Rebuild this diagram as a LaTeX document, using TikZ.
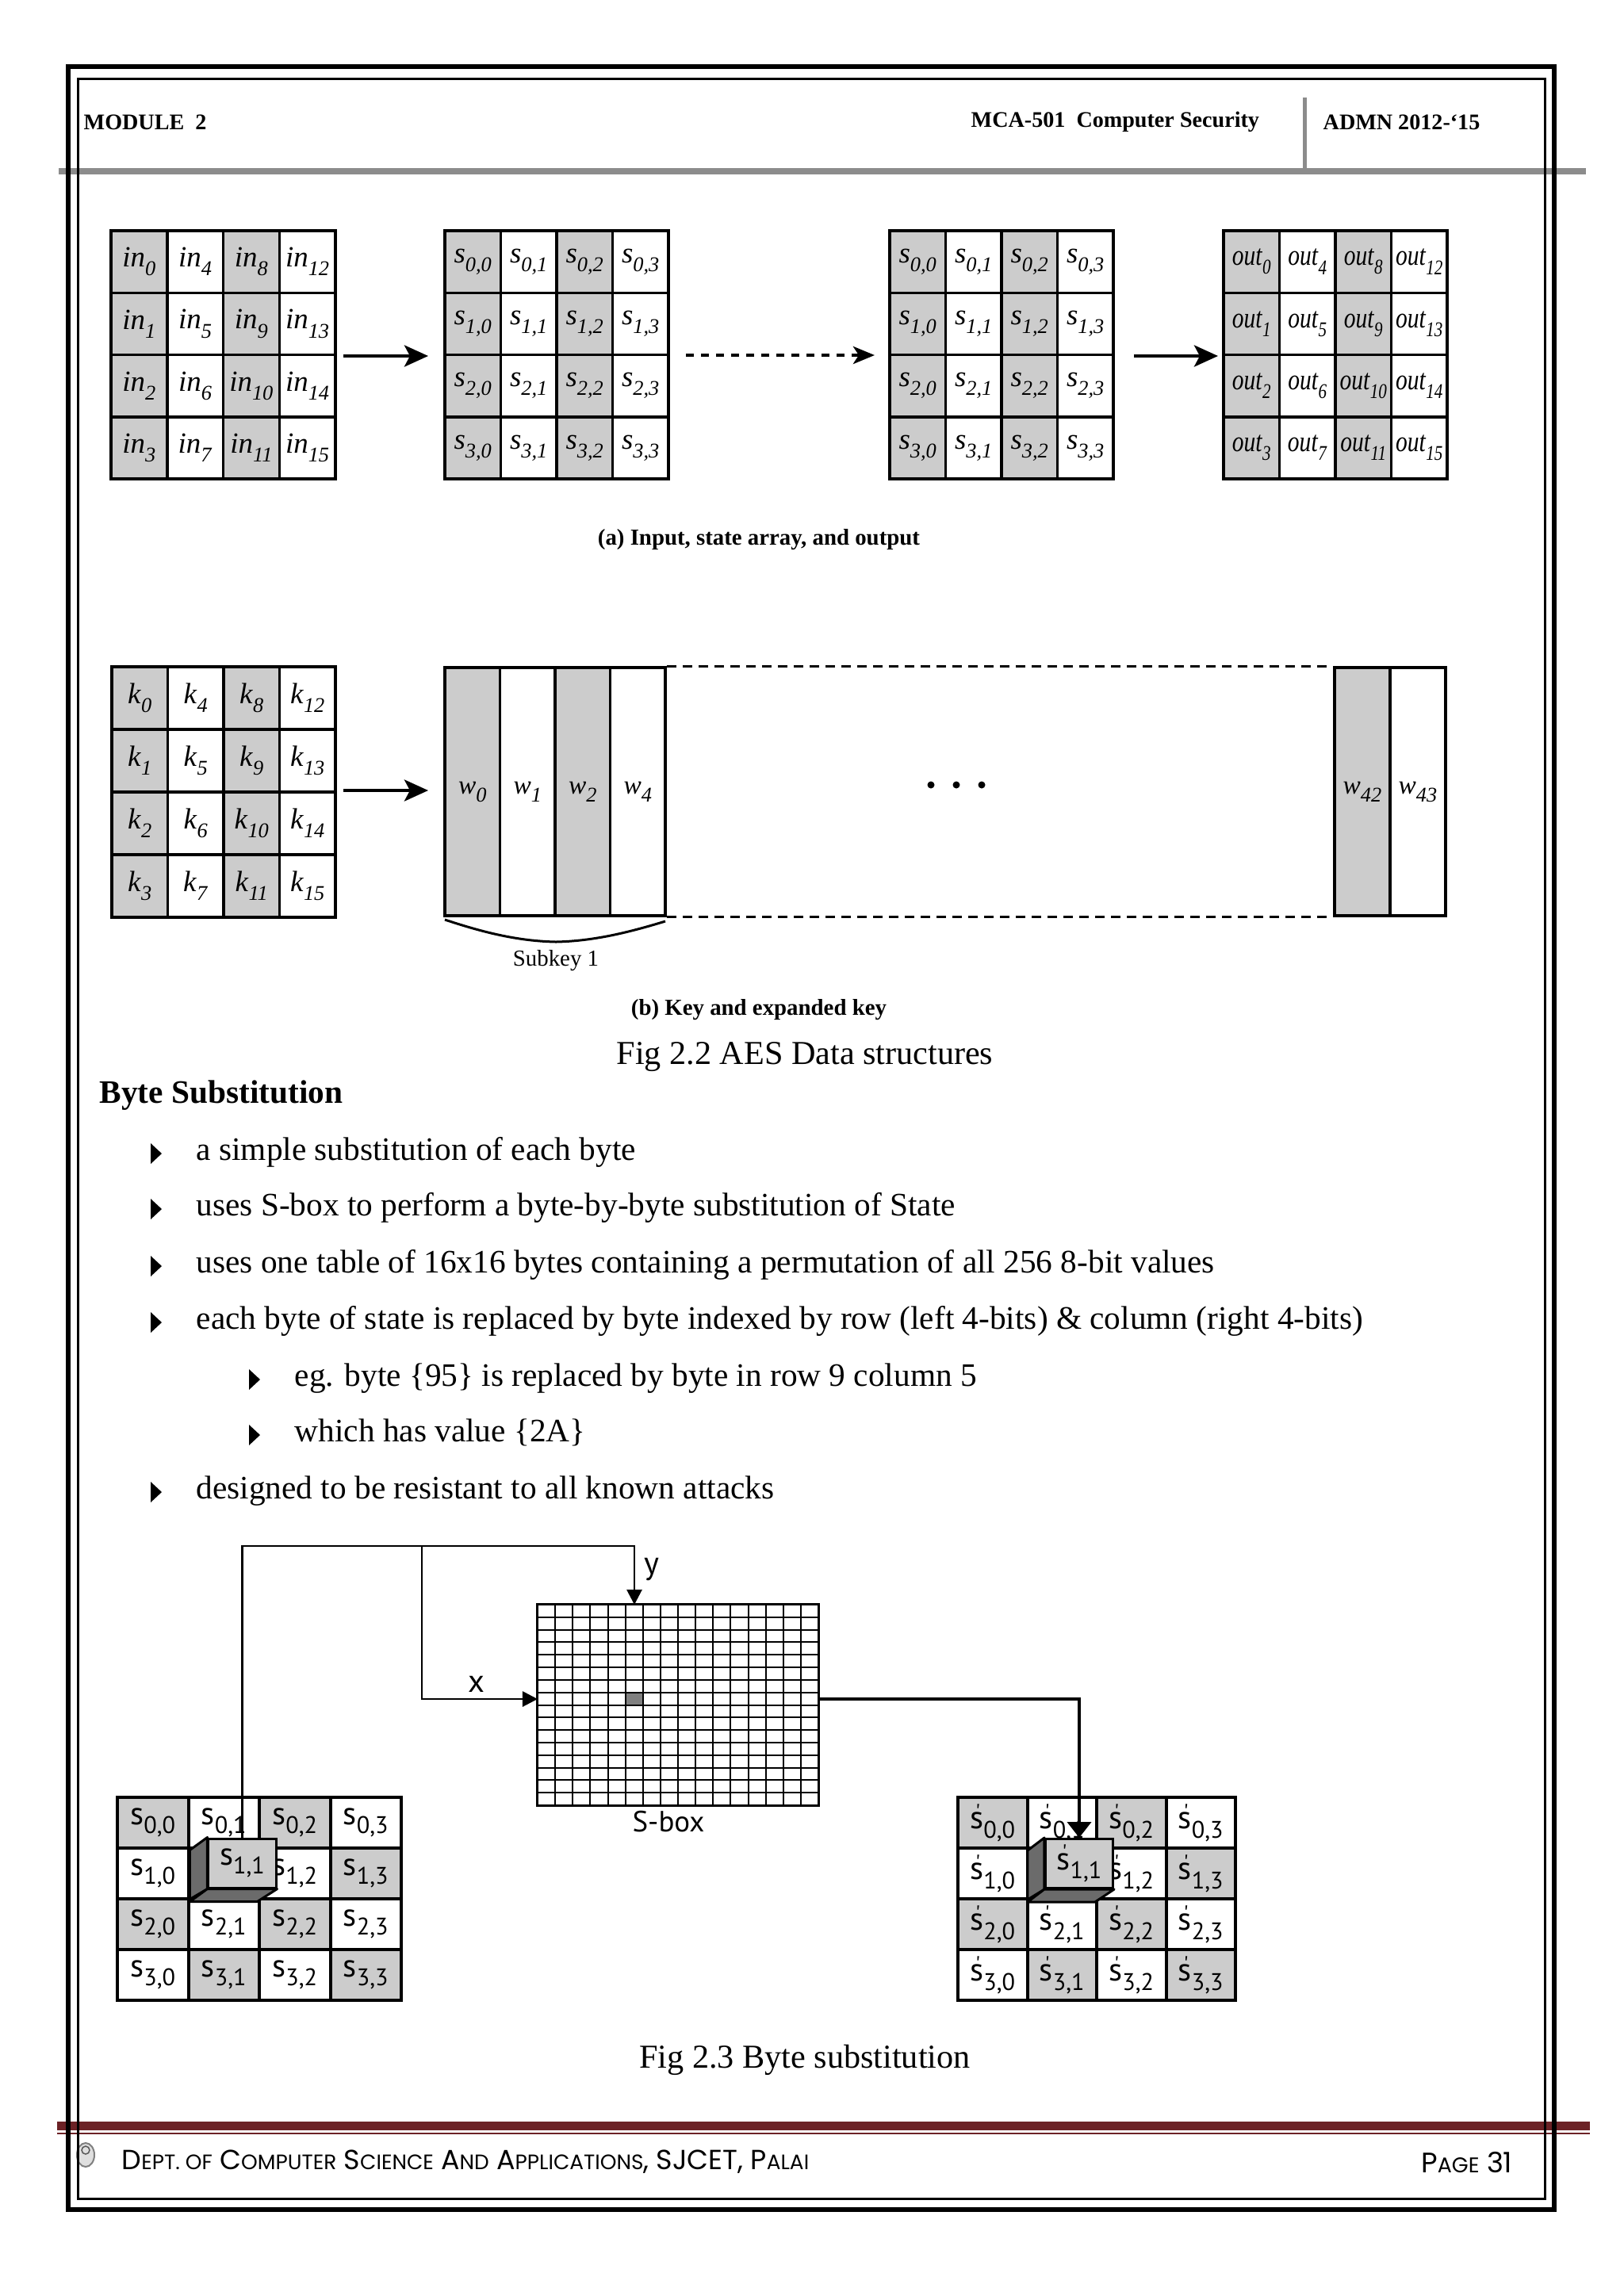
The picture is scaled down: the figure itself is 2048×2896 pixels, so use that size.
\documentclass[tikz,border=0pt]{standalone}
\usepackage{fontspec}
\usepackage{graphicx}
\setmainfont{Liberation Serif}
\newfontfamily\sfig{PT Sans}
\newfontfamily\footfont{Poppins}
\usetikzlibrary{arrows.meta}
\definecolor{cellgray}{gray}{0.80}
\definecolor{darkface}{gray}{0.42}
\definecolor{hlgray}{gray}{0.50}
\definecolor{bargray}{gray}{0.55}
\definecolor{maroon}{RGB}{108,34,38}

\newcommand\sbi[2]{\textit{#1}\raisebox{-0.3em}{\fontsize{7.5}{8}\selectfont\textit{#2}}}
\newcommand\ssb[2]{#1\raisebox{-0.28em}{\fontsize{8.6}{9}\selectfont #2}}
\newcommand\spr{\makebox[0pt][l]{\hspace{1.9pt}\raisebox{3.3pt}{\fontsize{8}{8}\selectfont\textquotesingle}}s}
\newcommand\fsc[1]{{\fontsize{6.8}{7}\selectfont #1}}
\newcommand\fontA{\fontsize{10.5}{12}\selectfont}
\newcommand\fontW{\fontsize{9.5}{11}\selectfont}
\newcommand\fontC{\sfig\fontsize{11.5}{13}\selectfont}
\newcommand\bodyfont{\fontsize{11.75}{14}\selectfont}
\newcommand\capfont{\fontsize{12}{14}\selectfont}

% #1 prefix, #2 x0, #3 y0, #4 cw, #5 ch, #6 shade expr, #7 label, #8 line width
\newcommand\cellgrid[8]{%
  \foreach \rowi in {0,...,3}{\foreach \coli in {0,...,3}{%
    \pgfmathtruncatemacro\idx{4*\coli+\rowi}%
    \pgfmathtruncatemacro\gsel{#6}%
    \ifnum\gsel=0 \def\cf{cellgray}\else\def\cf{white}\fi
    \filldraw[draw=black,line width=#8,fill=\cf] ({#2+#4*\coli},{#3+#5*\rowi}) rectangle ({#2+#4*(\coli+1)},{#3+#5*(\rowi+1)});
    \node[inner sep=0pt] (#1\rowi\coli) at ({#2+#4*(\coli+0.5)},{#3+#5*(\rowi+0.5)}) {#7};
  }}}

\begin{document}
\begin{tikzpicture}[x=0.01cm,y=-0.01cm,
  hdr/.style={anchor=west,inner sep=0pt,font=\bfseries\fontsize{8}{10}\selectfont},
  bigarrow/.style={line width=0.045cm,-{Stealth[length=0.3cm,width=0.27cm,inset=0.07cm]}},
  dotarrow/.style={line width=0.045cm,dash pattern=on 0.1cm off 0.09cm,-{Stealth[length=0.27cm,width=0.22cm,inset=0.07cm]}},
  wcol/.style={draw=black,line width=0.035cm,minimum height=3.13cm,inner sep=0pt},
  dashline/.style={line width=0.03cm,dash pattern=on 0.12cm off 0.08cm},
  capbold/.style={inner sep=0pt,font=\bfseries\fontsize{8.2}{10}\selectfont},
  bodyline/.style={anchor=west,inner sep=0pt,font=\bodyfont,text height=0.7em,text depth=0.22em},
  fline/.style={line width=0.028cm},
  ftip/.style={-{Triangle[length=0.19cm,width=0.19cm]}},
  fline2/.style={line width=0.04cm},
  ftip2/.style={-{Triangle[length=0.2cm,width=0.3cm]}},
  cubeface/.style={draw=black,line width=0.03cm,fill=cellgray,minimum width=0.85cm,minimum height=0.62cm,inner sep=0pt},
  sidefc/.style={draw=black,line width=0.03cm,fill=darkface,line join=round},
  flabel/.style={inner sep=0pt,font=\fontC}
]
\useasboundingbox (0,0) rectangle (2048,2896);
\fill[white] (0,0) rectangle (2048,2896);

% ---------------- header ----------------
\fill[bargray] (74,212) rectangle (2000,220);
\draw[bargray,line width=0.05cm] (1645,123) -- (1645,213);
\node[hdr] (mod) at (105,154) {MODULE~~2};
\node[hdr] (mca) at (1224,154) {MCA-501~~Computer Security};
\node[hdr] (admn) at (1668,154) {ADMN 2012-‘15};

% ---------------- figure (a) ----------------
\cellgrid{in}{140}{291}{70.75}{78.25}{mod(\coli,2)}{\fontA\sbi{in}{\idx}}{0.035cm}
\cellgrid{sa}{561}{291}{70.5}{78.25}{mod(\coli,2)}{\fontA\sbi{s}{\rowi,\coli}}{0.035cm}
\cellgrid{sb}{1122}{291}{70.5}{78.25}{mod(\coli,2)}{\fontA\sbi{s}{\rowi,\coli}}{0.035cm}
\cellgrid{out}{1543}{291}{70.5}{78.25}{mod(\coli,2)}{\fontA\scalebox{0.8}[1]{\sbi{out}{\idx}}}{0.035cm}

\coordinate (a1s) at (433,449); \coordinate (a1e) at (540,449);
\coordinate (a2s) at (865,448); \coordinate (a2e) at (1103,448);
\coordinate (a3s) at (1430,449); \coordinate (a3e) at (1536,449);
\draw[bigarrow] (a1s) -- (a1e);
\draw[dotarrow] (a2s) -- (a2e);
\draw[bigarrow] (a3s) -- (a3e);
\node[capbold] (capa) at (957,681) {(a) Input, state array, and output};

% ---------------- figure (b) ----------------
\cellgrid{k}{141}{841}{70.5}{79}{mod(\coli,2)}{\fontA\sbi{k}{\idx}}{0.035cm}
\coordinate (b1s) at (433,997); \coordinate (b1e) at (540,997);
\draw[bigarrow] (b1s) -- (b1e);

\node[wcol,fill=cellgray,minimum width=0.695cm] (w0) at (595.75,998.5) {\fontW\sbi{w}{0}};
\node[wcol,fill=white,minimum width=0.695cm] (w1) at (665.25,998.5) {\fontW\sbi{w}{1}};
\node[wcol,fill=cellgray,minimum width=0.695cm] (w2) at (734.75,998.5) {\fontW\sbi{w}{2}};
\node[wcol,fill=white,minimum width=0.695cm] (w4) at (804.25,998.5) {\fontW\sbi{w}{4}};
\node[wcol,fill=cellgray,minimum width=0.70cm] (w42) at (1718,998.5) {\fontW\sbi{w}{42}};
\node[wcol,fill=white,minimum width=0.70cm] (w43) at (1788,998.5) {\fontW\sbi{w}{43}};
\draw[dashline] (w4.north east) -- (w42.north west);
\draw[dashline] (w4.south east) -- (w42.south west);
\fill (1174,990) circle[radius=0.045cm];
\fill (1206,990) circle[radius=0.045cm];
\fill (1238,990) circle[radius=0.045cm];

\coordinate (brL) at (561,1160); \coordinate (brM) at (701,1188); \coordinate (brR) at (839,1162);
\draw[line width=0.03cm] (brL) .. controls (612,1177) and (655,1187) .. (brM) .. controls (747,1187) and (790,1177) .. (brR);
\node[inner sep=0pt,font=\fontsize{8.2}{10}\selectfont] (subkey) at (701,1212) {Subkey 1};
\node[capbold] (capb) at (957,1274) {(b) Key and expanded key};

% ---------------- text ----------------
\node[inner sep=0pt,font=\capfont] (fig22) at (1015,1333) {Fig 2.2 AES Data structures};
\node[bodyline,font=\bfseries\bodyfont] (bsub) at (125,1383) {Byte Substitution};
\foreach \yy in {1455,1525,1597,1668,1882}{\fill (190,{\yy-13}) -- (204,\yy) -- (190,{\yy+13}) -- cycle;}
\foreach \yy in {1740,1810}{\fill (314,{\yy-13}) -- (328,\yy) -- (314,{\yy+13}) -- cycle;}
\node[bodyline] (t1) at (247,1455) {a simple substitution of each byte};
\node[bodyline] (t2) at (247,1525) {uses S-box to perform a byte-by-byte substitution of State};
\node[bodyline] (t3) at (247,1597) {uses one table of 16x16 bytes containing a permutation of all 256 8-bit values};
\node[bodyline] (t4) at (247,1668) {each byte of state is replaced by byte indexed by row (left 4-bits) \& column (right 4-bits)};
\node[bodyline] (t5) at (371,1740) {eg. byte \{95\} is replaced by byte in row 9 column 5};
\node[bodyline] (t6) at (371,1810) {which has value \{2A\}};
\node[bodyline] (t7) at (247,1882) {designed to be resistant to all known attacks};

% ---------------- figure 2.3 ----------------
\cellgrid{bl}{148}{2267}{89.5}{64}{mod(\rowi+\coli,2)}{\fontC\ssb{s}{\rowi,\coli}}{0.04cm}
\cellgrid{br}{1208}{2267}{87.5}{64}{mod(\rowi+\coli,2)}{\fontC\ssb{\spr}{\rowi,\coli}}{0.04cm}

% S-box
\node[draw=black,line width=0.03cm,minimum width=3.54cm,minimum height=2.53cm,inner sep=0pt] (sbox) at (855,2150.5) {};
\fill[hlgray] (788.6,2134.7) rectangle (810.75,2150.5);
\foreach \i in {1,...,15}{
  \draw[line width=0.02cm] ({678+22.125*\i},2024) -- ({678+22.125*\i},2277);
  \draw[line width=0.02cm] (678,{2024+15.8125*\i}) -- (1032,{2024+15.8125*\i});
}
\node[flabel,font=\sfig\fontsize{10.5}{12}\selectfont] (sboxlab) at (843,2298) {S-box};

% cubes
\node[cubeface] (cubeL) at (305.5,2350) {\fontC\ssb{s}{1,1}};
\draw[sidefc] (cubeL.north west) -- ++(-22,16) -- ++(0,62) -- (cubeL.south west) -- cycle;
\draw[sidefc] (cubeL.south west) -- ++(-22,16) -- ++(85,0) -- (cubeL.south east) -- cycle;
\node[cubeface] (cubeR) at (1361,2350.5) {\fontC\ssb{\spr}{1,1}};
\draw[sidefc] (cubeR.north west) -- ++(-21,16) -- ++(0,62) -- (cubeR.south west) -- cycle;
\draw[sidefc] (cubeR.south west) -- ++(-21,16) -- ++(85,0) -- (cubeR.south east) -- cycle;

% connectors
\coordinate (yknee) at (800,1950);
\coordinate (yin) at (800,2024);
\coordinate (xtap) at (532,1950);
\coordinate (xin) at (678,2143);
\coordinate (xout) at (1032,2143);
\draw[fline,ftip] (cubeL.north) |- (yknee) -- (yin);
\draw[fline,ftip] (xtap) |- (xin);
\draw[fline2,ftip2] (xout) -| (cubeR.north);
\node[flabel] (xlab) at (601,2124) {x};
\node[flabel] (ylab) at (822,1980) {y};

\node[inner sep=0pt,font=\capfont] (fig23) at (1015,2598) {Fig 2.3 Byte substitution};

% ---------------- footer ----------------
\fill[maroon] (72,2676) rectangle (2005,2687);
\draw[maroon,line width=0.015cm] (72,2691) -- (2005,2691);
\draw[gray,line width=0.02cm,fill=gray!25] (108,2718) ellipse[x radius=0.11cm,y radius=0.15cm];
\draw[gray!70!black,line width=0.015cm] (108,2712) circle[radius=0.05cm];
\node[anchor=west,inner sep=0pt] (foot) at (153,2727) {\resizebox{8.66cm}{!}{\footfont\fontsize{9}{10}\selectfont D\fsc{EPT. OF} C\fsc{OMPUTER} S\fsc{CIENCE} A\fsc{ND} A\fsc{PPLICATIONS}, SJCET, P\fsc{ALAI}}};
\node[anchor=east,inner sep=0pt] (page) at (1908,2727) {\resizebox{1.15cm}{!}{\footfont\fontsize{9}{10}\selectfont P\fsc{AGE} 31}};

% ---------------- page frames ----------------
\draw[black,line width=0.03cm] (98,99) rectangle (1948,2773);
\draw[black,line width=0.06cm] (86,84) rectangle (1960,2787);
\end{tikzpicture}
\end{document}
